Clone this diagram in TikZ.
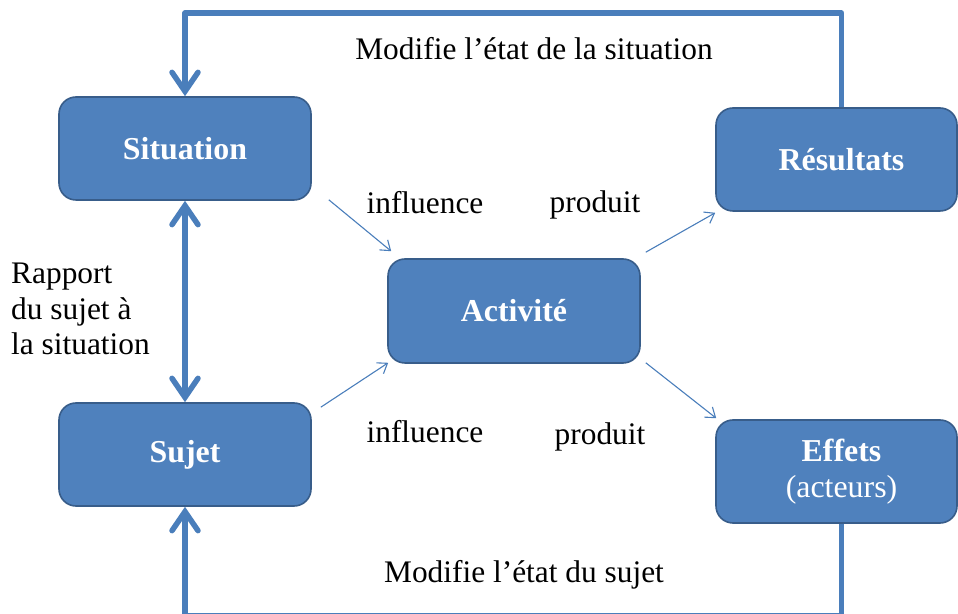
\documentclass[tikz,border=0pt]{standalone}
\usepackage{fontspec}
\setmainfont{Liberation Serif}
\usetikzlibrary{arrows.meta,calc}
\definecolor{boxfill}{HTML}{4F81BD}
\definecolor{boxline}{HTML}{385D8A}
\definecolor{flow}{HTML}{4A7EBB}
\tikzset{
  block/.style={draw=boxline,fill=boxfill,line width=1.6bp,rounded corners=17bp,
    minimum height=103bp,text=white,font=\fontsize{32}{36}\selectfont\bfseries},
  lbl/.style={font=\fontsize{31.5}{36}\selectfont,inner sep=0pt},
  fat/.style={flow,line width=5.5bp},
  thin/.style={flow,line width=1.1bp},
}
\begin{document}
\begin{tikzpicture}[>={Straight Barb[length=9bp,width=13bp]},line join=round]
%%
\useasboundingbox (0,0) rectangle (958bp,614bp);
\node (sit) at (185bp,465.5bp) [block,minimum width=252bp] {Situation};
  \node (suj) at (185bp,159.5bp) [block,minimum width=252bp] {Sujet};
  \node (act) at (514bp,303bp) [block,minimum width=252bp,minimum height=104bp] {Activité};
  \node (res) at (836.5bp,454.5bp) [block,minimum width=241bp] {\hspace{10bp}Résultats};
  \node (eff) at (836.5bp,142.5bp) [block,minimum width=241bp,align=center] {\hspace{10bp}Effets\\\hspace{10bp}\mdseries(acteurs)};
  \node (lbl_top) at (534bp,565bp) [lbl] {Modifie l’état de la situation};
  \node (lbl_bot) at (524bp,39bp) [lbl] {Modifie l’état du sujet};
  \node (lbl_inf1) at (425bp,411bp) [lbl] {influence};
  \node (lbl_prod1) at (595bp,409bp) [lbl] {produit};
  \node (lbl_inf2) at (425bp,182bp) [lbl] {influence};
  \node (lbl_prod2) at (600bp,177bp) [lbl] {produit};
  \node (lbl_rap) at (11bp,305bp) [lbl,anchor=west,align=left] {Rapport\\du sujet à\\la situation};
  \coordinate (loop_top) at (514bp,601bp);
  \coordinate (loop_bot) at (514bp,-2bp);
%
  \draw [thin,->] ($(sit.south east)+(17bp,1bp)$) -- ($(act.north west)+(4bp,7bp)$);
  \draw [thin,->] ($(suj.north east)+(9bp,-5bp)$) -- ($(act.south west)+(1bp,1bp)$);
  \draw [thin,->] ($(act.north east)+(5bp,6bp)$) -- ($(res.south west)+(0bp,-1bp)$);
  \draw [thin,->] ($(act.south east)+(5bp,1bp)$) -- ($(eff.north west)+(1bp,1bp)$);
  \draw [fat,{Straight Barb[length=19bp,width=26bp,line cap=round]}-{Straight Barb[length=19bp,width=26bp,line cap=round]}] (sit) -- (suj);
  \draw [fat,-{Straight Barb[length=19bp,width=26bp,line cap=round]}] ([xshift=5bp]res.north) |- (loop_top) -| (sit.north);
  \draw [fat,-{Straight Barb[length=19bp,width=26bp,line cap=round]}] ([xshift=5bp]eff.south) |- (loop_bot) -| (suj.south);
%
\end{tikzpicture}
\end{document}
